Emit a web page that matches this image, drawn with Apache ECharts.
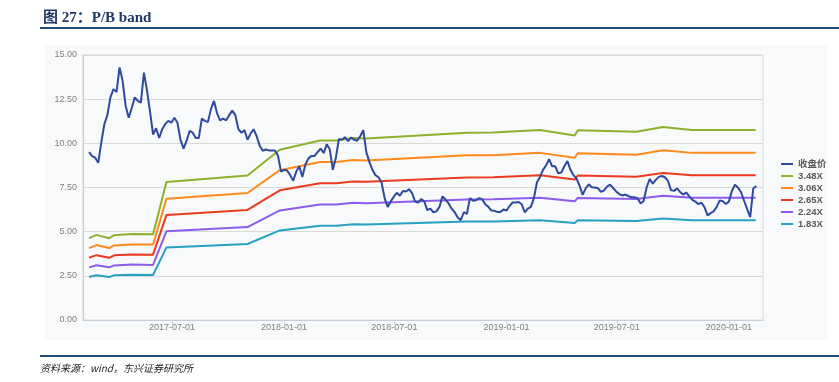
<!DOCTYPE html>
<html>
<head>
<meta charset="utf-8">
<script src="https://cdn.jsdelivr.net/npm/echarts@6/dist/echarts.min.js"></script>
<style>
html, body { margin: 0; padding: 0; background: #fff; }
#main { width: 839px; height: 382px; }
</style>
</head>
<body>
<div id="main"></div>
<script>
// 收盘价：从 2017-02-15 起每 5 天读一个点
var priceStart = '2017-02-15';
var priceStepDays = 5;
var closePrices = [
    9.5, 9.28, 9.19, 8.9, 10.04, 11.08, 11.6, 12.6, 13.07, 12.9,
    14.3, 13.54, 12.12, 11.45, 12.0, 12.6, 12.4, 12.3, 14.0, 13.0,
    11.8, 10.5, 10.85, 10.3, 10.8, 11.1, 11.27, 11.17, 11.45, 11.17,
    10.2, 9.7, 10.15, 10.7, 10.6, 10.3, 10.3, 11.4, 11.27, 11.2,
    11.95, 12.4, 11.7, 11.3, 11.4, 11.3, 11.6, 11.85, 11.6, 10.8,
    10.6, 10.75, 10.2, 10.55, 10.8, 10.4, 9.86, 9.58, 9.65, 9.6,
    9.6, 9.6, 9.3, 8.4, 8.5, 8.46, 8.2, 7.88, 8.4, 8.7,
    8.1, 8.8, 9.15, 9.29, 9.29, 9.5, 9.7, 9.45, 9.94, 9.66,
    8.5, 9.19, 10.25, 10.2, 10.35, 10.13, 10.32, 10.2, 10.15, 10.4,
    10.75, 9.5, 8.95, 8.5, 8.2, 8.08, 7.78, 6.9, 6.4, 6.7,
    6.98, 7.2, 7.03, 7.3, 7.27, 7.4, 7.2, 6.7, 6.65, 6.84,
    6.72, 6.22, 6.3, 6.1, 6.15, 6.4, 7.0, 6.82, 6.6, 6.3,
    6.1, 5.8, 5.65, 6.1, 6.0, 6.9, 6.75, 6.78, 6.9, 6.84,
    6.55, 6.42, 6.2, 6.18, 6.12, 6.12, 6.25, 6.2, 6.45, 6.65,
    6.65, 6.68, 6.55, 6.1, 6.3, 6.4, 6.9, 7.8, 8.1, 8.5,
    8.75, 9.1, 8.7, 8.7, 8.3, 8.35, 8.7, 9.0, 8.5, 8.2,
    8.0, 7.6, 7.08, 7.45, 7.68, 7.52, 7.5, 7.46, 7.25, 7.33,
    7.55, 7.66, 7.47, 7.28, 7.13, 7.05, 7.1, 7.02, 6.95, 6.95,
    6.9, 6.6, 6.72, 7.5, 7.98, 7.72, 7.93, 8.1, 8.15, 8.08,
    7.87, 7.35, 7.31, 7.45, 7.25, 7.1, 7.22, 7.0, 6.8, 6.7,
    6.56, 6.64, 6.38, 5.92, 6.05, 6.15, 6.4, 6.77, 6.72, 6.57,
    6.7, 7.3, 7.66, 7.49, 7.23, 6.75, 6.28, 5.82, 7.44, 7.59
];

// PB 通道拐点
var bandDates = [
    '2017-02-15', '2017-02-27', '2017-03-20', '2017-03-28', '2017-04-26', '2017-05-31',
    '2017-06-22', '2017-11-02', '2017-12-25', '2018-03-01', '2018-03-28', '2018-04-24',
    '2018-05-16', '2018-10-28', '2018-12-10', '2019-02-25', '2019-04-23', '2019-04-28',
    '2019-08-02', '2019-09-15', '2019-11-01', '2020-02-14'
];
var band348 = [4.63, 4.82, 4.63, 4.80, 4.87, 4.85, 7.81, 8.18, 9.64, 10.16, 10.16, 10.30,
               10.27, 10.60, 10.61, 10.75, 10.44, 10.74, 10.65, 10.93, 10.75, 10.75];
var band306 = [4.07, 4.24, 4.07, 4.22, 4.28, 4.27, 6.87, 7.19, 8.48, 8.94, 8.94, 9.06,
               9.03, 9.32, 9.33, 9.46, 9.18, 9.44, 9.36, 9.61, 9.46, 9.46];
var band265 = [3.52, 3.67, 3.52, 3.66, 3.71, 3.70, 5.95, 6.23, 7.34, 7.74, 7.74, 7.84,
               7.82, 8.07, 8.08, 8.19, 7.95, 8.18, 8.11, 8.32, 8.19, 8.19];
var band224 = [2.98, 3.10, 2.98, 3.09, 3.14, 3.12, 5.03, 5.26, 6.20, 6.54, 6.54, 6.63,
               6.61, 6.82, 6.83, 6.92, 6.72, 6.91, 6.85, 7.03, 6.92, 6.92];
var band183 = [2.43, 2.53, 2.43, 2.53, 2.56, 2.55, 4.11, 4.30, 5.07, 5.34, 5.34, 5.42,
               5.40, 5.57, 5.58, 5.65, 5.49, 5.65, 5.60, 5.75, 5.65, 5.65];

var xTickLabels = ['2017-07-01', '2018-01-01', '2018-07-01', '2019-01-01', '2019-07-01', '2020-01-01'];
var xMin = '2017-02-05';
var xMax = '2020-02-26';

var seriesNames = ['收盘价', '3.48X', '3.06X', '2.65X', '2.24X', '1.83X'];
var seriesColors = ['#2E4A9E', '#8DB12A', '#FF8A1C', '#EC3A1E', '#8E5BEA', '#27A2C2'];

function toTs(s) {
    var p = s.split('-');
    return new Date(+p[0], +p[1] - 1, +p[2]).getTime();
}
function pad(n) { return n < 10 ? '0' + n : '' + n; }

var p0 = priceStart.split('-');
var priceData = closePrices.map(function (v, i) {
    var d = new Date(+p0[0], +p0[1] - 1, +p0[2] + priceStepDays * i);
    return [d.getTime(), v];
});
function bandData(arr) {
    return arr.map(function (v, i) { return [toTs(bandDates[i]), v]; });
}
var tickTs = xTickLabels.map(toTs);

var chart = echarts.init(document.getElementById('main'));

var bands = [band348, band306, band265, band224, band183];
var series = [{
    name: seriesNames[0],
    type: 'line',
    data: priceData,
    symbol: 'none',
    z: 5,
    lineStyle: { width: 2, color: seriesColors[0] },
    itemStyle: { color: seriesColors[0] }
}];
bands.forEach(function (b, k) {
    series.push({
        name: seriesNames[k + 1],
        type: 'line',
        data: bandData(b),
        symbol: 'none',
        z: 3,
        lineStyle: { width: 2, color: seriesColors[k + 1] },
        itemStyle: { color: seriesColors[k + 1] }
    });
});

var option = {
    backgroundColor: '#fff',
    animation: false,
    textStyle: { fontFamily: 'Liberation Sans, "Noto Sans CJK SC", sans-serif' },
    title: {
        text: '图 27：P/B band',
        left: 38,
        top: 6,
        textStyle: {
            fontFamily: 'Liberation Serif, "Noto Sans CJK SC", serif',
            fontSize: 15,
            fontWeight: 'bold',
            color: '#1F3864'
        }
    },
    graphic: [
        {
            type: 'rect', z: -10, silent: true,
            shape: { x: 45, y: 45, width: 782, height: 295 },
            style: { fill: '#F8F9FB' }
        },
        {
            type: 'line', silent: true,
            shape: { x1: 40, y1: 28, x2: 839, y2: 28 },
            style: { stroke: '#1F4E79', lineWidth: 2 }
        },
        {
            type: 'line', silent: true,
            shape: { x1: 40, y1: 356, x2: 839, y2: 356 },
            style: { stroke: '#1F4E79', lineWidth: 2 }
        },
        {
            type: 'text', silent: true,
            left: 40, top: 363,
            style: {
                text: '资料来源：wind，东兴证券研究所',
                font: 'italic 10px "Noto Sans CJK SC", sans-serif',
                fill: '#222'
            }
        }
    ],
    legend: {
        data: seriesNames,
        orient: 'vertical',
        left: 776,
        top: 154,
        icon: 'rect',
        itemWidth: 12,
        itemHeight: 2,
        itemGap: 2,
        textStyle: { fontSize: 9.5, lineHeight: 10, color: '#595959', fontWeight: 'bold' }
    },
    grid: {
        left: 83, right: 76, top: 55, bottom: 62,
        show: true, borderColor: '#D9D9D9', borderWidth: 1, backgroundColor: 'transparent'
    },
    xAxis: {
        type: 'value',
        min: toTs(xMin),
        max: toTs(xMax),
        axisLine: { lineStyle: { color: '#C5CEDA' } },
        axisTick: { show: true, customValues: tickTs, length: 4, lineStyle: { color: '#C5CEDA' } },
        axisLabel: {
            customValues: tickTs,
            fontSize: 9,
            color: '#7F7F7F',
            margin: 3,
            formatter: function (val) {
                var d = new Date(val);
                return d.getFullYear() + '-' + pad(d.getMonth() + 1) + '-' + pad(d.getDate());
            }
        },
        splitLine: { show: false }
    },
    yAxis: {
        type: 'value',
        min: 0,
        max: 15,
        interval: 2.5,
        axisLine: { show: true, lineStyle: { color: '#C5CEDA' } },
        axisTick: { show: false },
        axisLabel: {
            fontSize: 9,
            color: '#7F7F7F',
            margin: 6,
            formatter: function (v) { return v.toFixed(2); }
        },
        splitLine: { lineStyle: { color: '#D9D9D9' } }
    },
    series: series
};

chart.setOption(option);
</script>
</body>
</html>
